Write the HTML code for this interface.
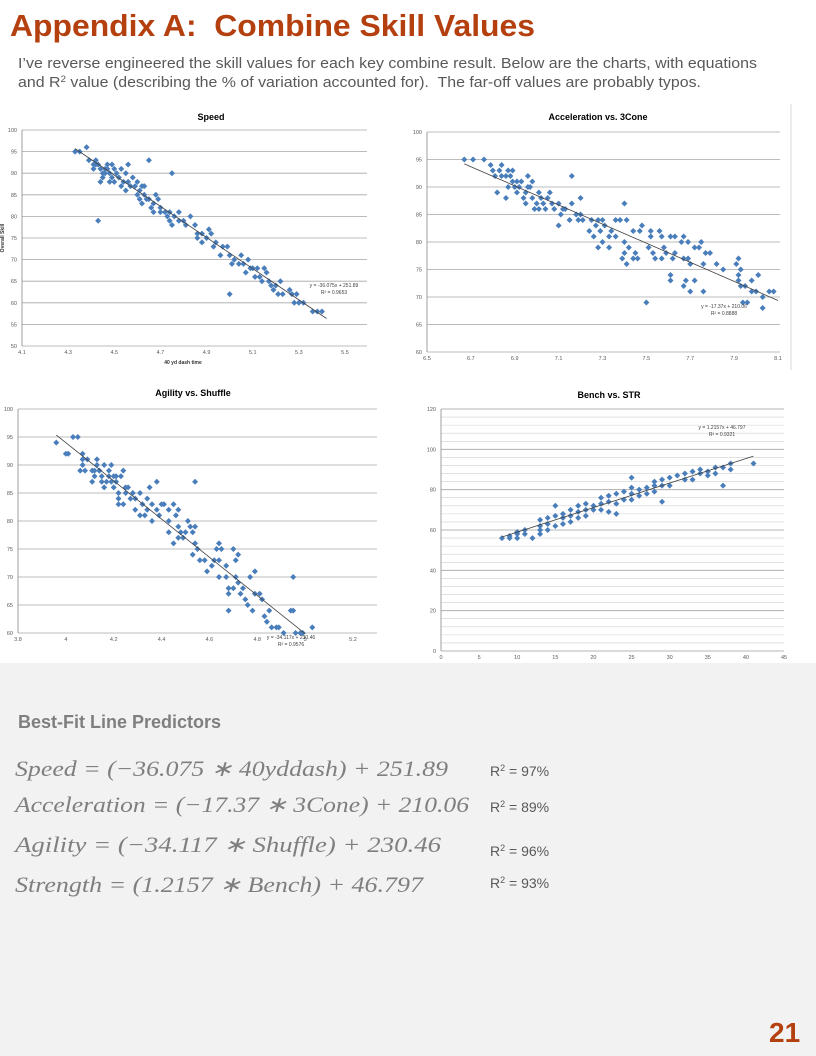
<!DOCTYPE html>
<html><head><meta charset="utf-8"><style>
html,body{margin:0;padding:0;background:#fff;}
svg{display:block;font-family:"Liberation Sans",sans-serif;}
</style></head><body>
<svg id="page" width="816" height="1056" viewBox="0 0 816 1056" xmlns="http://www.w3.org/2000/svg">
<rect x="0" y="0" width="816" height="1056" fill="#ffffff"/>
<rect x="0" y="663" width="816" height="393" fill="#f2f2f2"/>
<text x="10" y="36" font-size="31" font-weight="bold" fill="#b5400f" textLength="525" lengthAdjust="spacingAndGlyphs">Appendix A:&#160; Combine Skill Values</text>
<text x="18" y="68" font-size="14.5" fill="#595959" textLength="739" lengthAdjust="spacingAndGlyphs">I’ve reverse engineered the skill values for each key combine result. Below are the charts, with equations</text>
<text x="18" y="87" font-size="14.5" fill="#595959" textLength="683" lengthAdjust="spacingAndGlyphs">and R<tspan font-size="9" dy="-5">2</tspan><tspan dy="5"> value (describing the % of variation accounted for).&#160; The far-off values are probably typos.</tspan></text>
<line x1="791" y1="104" x2="791" y2="370" stroke="#d9d9d9" stroke-width="1"/>
<g id="charts"></g>
<text x="18" y="728" font-size="18" font-weight="bold" fill="#7f7f7f">Best-Fit Line Predictors</text>
<g font-family="'Liberation Serif',serif" font-style="italic" font-size="22" fill="#7f7f7f">
<text x="15" y="776" textLength="433" lengthAdjust="spacingAndGlyphs">Speed = (−36.075 ∗ 40yddash) + 251.89</text>
<text x="15" y="812" textLength="454" lengthAdjust="spacingAndGlyphs">Acceleration = (−17.37 ∗ 3Cone) + 210.06</text>
<text x="15" y="852" textLength="426" lengthAdjust="spacingAndGlyphs">Agility = (−34.117 ∗ Shuffle) + 230.46</text>
<text x="15" y="892" textLength="408" lengthAdjust="spacingAndGlyphs">Strength = (1.2157 ∗ Bench) + 46.797</text>
</g>
<g font-size="14" fill="#595959">
<text x="490" y="776">R<tspan font-size="9" dy="-5">2</tspan><tspan dy="5"> = 97%</tspan></text>
<text x="490" y="812">R<tspan font-size="9" dy="-5">2</tspan><tspan dy="5"> = 89%</tspan></text>
<text x="490" y="856">R<tspan font-size="9" dy="-5">2</tspan><tspan dy="5"> = 96%</tspan></text>
<text x="490" y="888">R<tspan font-size="9" dy="-5">2</tspan><tspan dy="5"> = 93%</tspan></text>
</g>
<text x="769" y="1042" font-size="28" font-weight="bold" fill="#b5400f">21</text>
</svg>
<script>
// ---- data ----
const speedX = [4.33,4.35,4.38,4.39,4.41,4.41,4.42,4.42,4.43,4.43,4.44,4.44,4.45,4.45,4.46,4.46,4.47,4.47,4.48,4.48,4.49,4.49,4.50,4.50,4.51,4.52,4.53,4.53,4.54,4.55,4.55,4.56,4.56,4.57,4.58,4.59,4.60,4.60,4.61,4.61,4.62,4.62,4.63,4.63,4.64,4.65,4.65,4.66,4.67,4.67,4.68,4.69,4.70,4.70,4.72,4.73,4.74,4.74,4.75,4.75,4.76,4.78,4.78,4.80,4.81,4.83,4.85,4.86,4.86,4.88,4.88,4.90,4.91,4.92,4.93,4.94,4.96,4.97,4.99,5.00,5.00,5.01,5.02,5.04,5.05,5.06,5.07,5.08,5.09,5.10,5.11,5.12,5.13,5.14,5.15,5.16,5.17,5.18,5.19,5.20,5.21,5.22,5.23,5.26,5.27,5.28,5.29,5.30,5.32,5.36,5.38,5.40];
const speedY = [95,95,96,93,92,91,93,92,92,79,91,88,89,90,91,90,92,91,90,88,92,89,91,88,90,89,91,87,88,90,86,92,88,87,89,87,85,88,84,86,87,83,85,87,84,93,84,82,81,83,85,84,82,81,81,80,79,81,90,78,80,81,79,79,78,80,78,76,75,74,76,75,77,76,73,74,71,73,73,62,71,69,70,69,71,69,67,70,68,68,66,68,66,65,68,67,65,64,63,64,62,65,62,63,62,60,62,60,60,58,58,58];
const accelX = [6.67,6.71,6.76,6.79,6.80,6.81,6.82,6.83,6.84,6.84,6.86,6.86,6.87,6.87,6.88,6.89,6.89,6.90,6.91,6.91,6.92,6.93,6.94,6.95,6.95,6.96,6.96,6.97,6.98,6.98,6.99,7.00,7.01,7.01,7.02,7.03,7.04,7.05,7.06,7.07,7.08,7.10,7.10,7.11,7.12,7.13,7.15,7.16,7.16,7.18,7.19,7.20,7.20,7.21,7.24,7.25,7.26,7.27,7.28,7.28,7.29,7.30,7.30,7.31,7.33,7.33,7.34,7.36,7.36,7.38,7.39,7.40,7.40,7.40,7.41,7.41,7.42,7.44,7.44,7.45,7.46,7.47,7.48,7.50,7.51,7.52,7.52,7.53,7.54,7.56,7.57,7.57,7.58,7.59,7.61,7.61,7.61,7.62,7.63,7.63,7.66,7.67,7.67,7.67,7.68,7.69,7.69,7.70,7.70,7.72,7.72,7.74,7.75,7.76,7.76,7.77,7.79,7.82,7.85,7.91,7.92,7.92,7.92,7.93,7.93,7.94,7.95,7.96,7.98,7.98,8.00,8.01,8.03,8.03,8.06,8.08];
const accelY = [95,95,95,94,93,92,89,93,94,92,88,92,93,90,92,93,91,90,89,91,90,91,88,87,89,92,90,90,91,88,86,87,89,86,88,87,86,88,89,87,86,83,87,85,86,86,84,92,87,85,84,88,85,84,82,84,81,83,79,84,82,80,84,83,79,81,82,84,81,84,77,87,80,78,76,84,79,82,77,78,77,82,83,69,79,82,81,78,77,82,81,77,79,78,74,73,81,77,81,78,80,81,72,77,73,77,80,71,76,73,79,79,80,71,76,78,78,76,75,76,77,74,73,75,72,69,72,69,73,71,71,74,70,68,71,71];
const agilX = [3.96,4.00,4.01,4.03,4.05,4.06,4.07,4.07,4.07,4.08,4.09,4.11,4.11,4.12,4.12,4.13,4.13,4.14,4.14,4.15,4.15,4.16,4.16,4.17,4.18,4.18,4.19,4.19,4.20,4.20,4.21,4.21,4.22,4.22,4.22,4.23,4.24,4.24,4.25,4.25,4.26,4.27,4.28,4.29,4.29,4.31,4.31,4.32,4.33,4.34,4.34,4.35,4.36,4.36,4.38,4.38,4.39,4.40,4.41,4.43,4.43,4.43,4.45,4.45,4.46,4.47,4.47,4.47,4.48,4.49,4.50,4.51,4.52,4.53,4.53,4.54,4.54,4.54,4.55,4.56,4.58,4.59,4.61,4.62,4.63,4.64,4.64,4.64,4.65,4.67,4.67,4.68,4.68,4.68,4.70,4.70,4.71,4.71,4.72,4.72,4.73,4.74,4.75,4.76,4.77,4.78,4.79,4.79,4.81,4.82,4.83,4.84,4.85,4.86,4.88,4.89,4.91,4.94,4.95,4.95,4.96,4.98,4.99,5.03];
const agilY = [94,92,92,95,95,89,92,91,90,89,91,89,87,88,89,91,90,89,89,88,87,90,86,87,88,89,90,87,88,86,87,88,83,84,85,88,89,83,86,85,86,84,85,82,84,85,81,83,81,82,84,86,80,83,87,82,81,83,83,78,80,82,83,76,81,82,79,77,78,77,78,80,79,74,78,87,76,79,75,73,73,71,72,73,75,76,70,73,75,72,70,64,67,68,68,75,73,70,74,69,67,68,66,65,70,64,71,67,67,66,63,62,64,61,61,61,60,64,70,64,60,60,60,61];
const strX = [8,9,9,10,10,10,11,11,12,13,13,13,13,14,14,14,15,15,15,16,16,16,17,17,17,18,18,18,19,19,19,20,20,21,21,21,22,22,22,23,23,23,24,24,25,25,25,25,26,26,27,27,28,28,28,29,29,29,30,30,31,32,32,33,33,34,34,35,35,36,36,37,37,38,38,41];
const strY = [56,56,57,56,58,59,58,60,56,58,60,62,65,60,63,66,62,67,72,63,66,68,64,67,70,66,69,72,67,70,73,70,72,70,73,76,69,74,77,68,73,78,75,79,75,78,81,86,77,80,78,81,79,82,84,74,82,85,82,86,87,85,88,85,89,88,90,87,89,88,91,82,91,90,93,93];
const trendSlopes = [-36.075,-17.37,-34.117,1.2157];
const trendIntercepts = [251.89,210.06,230.46,46.797];
const speedTicksX = ["4.1","4.3","4.5","4.7","4.9","5.1","5.3","5.5"];
const speedTicksY = ["50","55","60","65","70","75","80","85","90","95","100"];
const accelTicksX = ["6.5","6.7","6.9","7.1","7.3","7.5","7.7","7.9","8.1"];
const accelTicksY = ["60","65","70","75","80","85","90","95","100"];
const agilTicksX = ["3.8","4","4.2","4.4","4.6","4.8","5","5.2"];
const agilTicksY = ["60","65","70","75","80","85","90","95","100"];
const strTicksX = ["0","5","10","15","20","25","30","35","40","45"];
const strTicksY = ["0","20","40","60","80","100","120"];

const NS = "http://www.w3.org/2000/svg";
const root = document.getElementById('charts');
function mk(tag, attrs, parent){const e=document.createElementNS(NS,tag);for(const k in attrs)e.setAttribute(k,attrs[k]);parent.appendChild(e);return e;}

const layouts = [
 {name:'speed',title:'Speed',xs:speedX,ys:speedY,tx:speedTicksX,ty:speedTicksY,x0:22,x1:345,right:367,y0:346,y1:130,titleX:211,titleY:120,minor:0,
  eq:['y = -36.075x + 251.89','R² = 0.9653'],eqX:334,eqY:287,xr:[4.33,5.42]},
 {name:'acceleration',title:'Acceleration vs. 3Cone',xs:accelX,ys:accelY,tx:accelTicksX,ty:accelTicksY,x0:427,x1:778,right:780,y0:352,y1:132,titleX:598,titleY:120,minor:0,
  eq:['y = -17.37x + 210.06','R² = 0.8888'],eqX:724,eqY:308,xr:[6.67,8.1]},
 {name:'agility',title:'Agility vs. Shuffle',xs:agilX,ys:agilY,tx:agilTicksX,ty:agilTicksY,x0:18,x1:353,right:377,y0:633,y1:409,titleX:193,titleY:396,minor:0,
  eq:['y = -34.117x + 230.46','R² = 0.9576'],eqX:291,eqY:639,xr:[3.96,5.0]},
 {name:'strength',title:'Bench vs. STR',xs:strX,ys:strY,tx:strTicksX,ty:strTicksY,x0:441,x1:784,right:784,y0:651,y1:409,titleX:609,titleY:398,minor:4,
  eq:['y = 1.2157x + 46.797','R² = 0.9321'],eqX:722,eqY:429,xr:[8,41]}
];

layouts.forEach(L=>{
  const g=mk('g',{},root);
  
  
  const xmin=+L.tx[0], xmax=+L.tx[L.tx.length-1], ymin=+L.ty[0], ymax=+L.ty[L.ty.length-1];
  const sx=v=>L.x0+(v-xmin)/(xmax-xmin)*(L.x1-L.x0);
  const sy=v=>L.y0-(v-ymin)/(ymax-ymin)*(L.y0-L.y1);
  if(L.minor){for(let v=ymin;v<=ymax;v+=L.minor){const ln=mk('line',{x1:L.x0,x2:L.right,y1:sy(v),y2:sy(v),stroke:'#d0d0d0','stroke-width':0.6},g);
    
    }}
  L.ty.forEach(t=>{const y=sy(+t);
    const ln=mk('line',{x1:L.x0,x2:L.right,y1:y,y2:y,stroke:'#a6a6a6','stroke-width':0.8},g);
    
    
    const tx=mk('text',{x:L.x0-5,y:y+2,'font-size':5.5,fill:'#595959','text-anchor':'end'},g);tx.textContent=t;
    
    });
  const ax=mk('line',{x1:L.x0,x2:L.x0,y1:L.y1,y2:L.y0,stroke:'#888','stroke-width':0.8},g);
  
  
  L.tx.forEach(t=>{const x=sx(+t);
    const tx=mk('text',{x:x,y:L.y0+8,'font-size':5.5,fill:'#595959','text-anchor':'middle'},g);tx.textContent=t;
    
    });
  const tt=mk('text',{x:L.titleX,y:L.titleY,'font-size':9,'font-weight':'bold','text-anchor':'middle',fill:'#000'},g);tt.textContent=L.title;
  
  
  const i=layouts.indexOf(L);
  L.xs.forEach((xv,k)=>{const x=sx(xv),y=sy(L.ys[k]);
    const p=mk('path',{d:`M${x} ${y-3}L${x+3} ${y}L${x} ${y+3}L${x-3} ${y}Z`,fill:'#4a7ebb'},g);
    
    });
  const f=v=>trendSlopes[i]*v+trendIntercepts[i];
  const tl=mk('line',{x1:sx(L.xr[0]),y1:sy(f(L.xr[0])),x2:sx(L.xr[1]),y2:sy(f(L.xr[1])),stroke:'#404040','stroke-width':0.8},g);
  
  
  L.eq.forEach((s,k)=>{const e=mk('text',{x:L.eqX,y:L.eqY+k*7,'font-size':5,fill:'#404040','text-anchor':'middle'},g);e.textContent=s;
    
    });
});
// speed axis titles
const xt=mk('text',{x:183,y:364,'font-size':5,'font-weight':'bold','text-anchor':'middle',fill:'#333'},root);xt.textContent='40 yd dash time';


const yt=mk('text',{x:0,y:0,'font-size':5,'font-weight':'bold','text-anchor':'middle',fill:'#333',transform:'translate(4,238) rotate(-90)'},root);yt.textContent='Overall Skill';


</script>
</body></html>
